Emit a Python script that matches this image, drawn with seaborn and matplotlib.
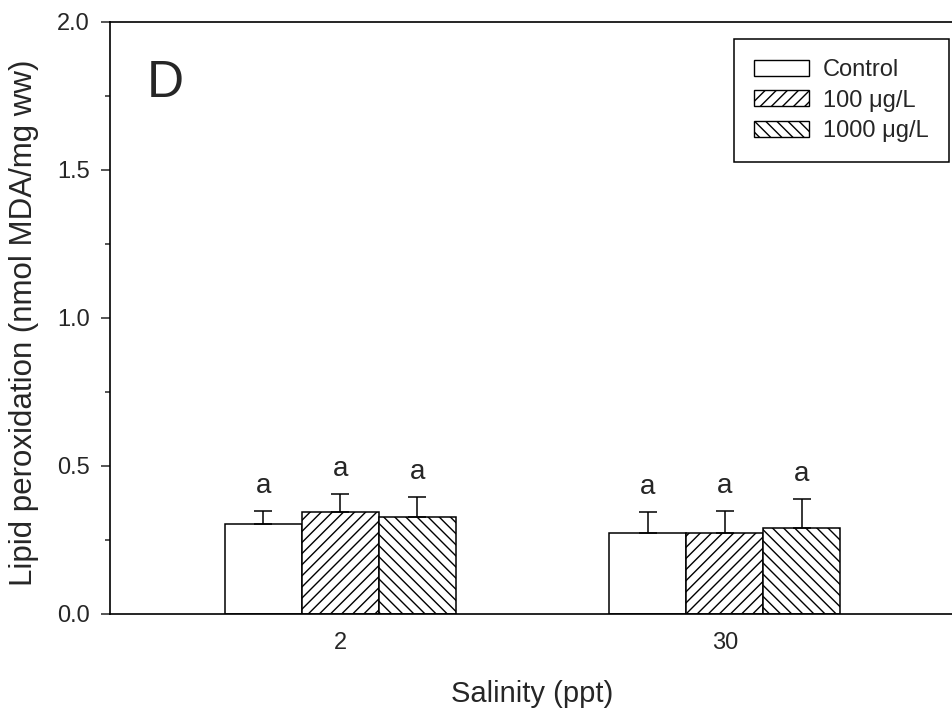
import matplotlib
matplotlib.use("Agg")
import matplotlib.pyplot as plt
import seaborn as sns
import numpy as np
import pandas as pd
from matplotlib.ticker import MultipleLocator
from matplotlib.patches import Patch

sns.set_theme(style="ticks")
plt.rcParams["font.family"] = ["Liberation Sans", "DejaVu Sans"]
plt.rcParams["hatch.linewidth"] = 1.0

# Lipid peroxidation by salinity and exposure concentration
salinity = ["2", "30"]
treatments = ["Control", "100 μg/L", "1000 μg/L"]
mean_2 = [0.305, 0.346, 0.329]
mean_30 = [0.275, 0.275, 0.292]
sem_2 = [0.043, 0.060, 0.066]
sem_30 = [0.071, 0.074, 0.097]
letters_2 = ["a", "a", "a"]
letters_30 = ["a", "a", "a"]

df = pd.DataFrame({
    "Salinity": salinity[:1] * 3 + salinity[1:] * 3,
    "Treatment": treatments * 2,
    "Value": mean_2 + mean_30,
    "SEM": sem_2 + sem_30,
    "Letter": letters_2 + letters_30,
})

fig = plt.figure(figsize=(9.52, 7.19), dpi=100)
ax = fig.add_axes([110 / 952, 105 / 719, 845 / 952, 592 / 719])

hatches = {"Control": "", "100 μg/L": "///", "1000 μg/L": "\\\\\\"}

sns.barplot(data=df, x="Salinity", y="Value", hue="Treatment",
            order=salinity, hue_order=treatments,
            palette=["white"] * 3, edgecolor="black", linewidth=1.1,
            width=0.6, errorbar=None, legend=False, ax=ax)

# Apply hatches and add upper error bars and significance letters
bars = [p for p in ax.patches]
for i, t in enumerate(treatments):
    for j, s in enumerate(salinity):
        p = bars[i * len(salinity) + j]
        p.set_hatch(hatches[t])
        row = df[(df.Salinity == s) & (df.Treatment == t)].iloc[0]
        xc = p.get_x() + p.get_width() / 2
        top = p.get_height()
        ax.errorbar(xc, top, yerr=[[0], [row.SEM]], fmt="none",
                    ecolor="black", elinewidth=1.1, capsize=6.5, capthick=1.1,
                    zorder=1)
        ax.text(xc, top + row.SEM + 0.06, row.Letter, ha="center",
                va="baseline", fontsize=20)

ax.set_ylim(0, 2.0)
ax.set_xlim(-0.598, 1.598)
ax.yaxis.set_minor_locator(MultipleLocator(0.25))
ax.set_yticks([0, 0.5, 1.0, 1.5, 2.0])
ax.set_yticklabels(["0.0", "0.5", "1.0", "1.5", "2.0"])
ax.tick_params(axis="y", which="major", length=6.5, width=1.1, labelsize=17,
               direction="out", pad=8)
ax.tick_params(axis="y", which="minor", length=3.5, width=1.1, direction="out")
ax.tick_params(axis="x", length=0, labelsize=17, pad=13)

for sp in ax.spines.values():
    sp.set_visible(True)
    sp.set_linewidth(1.2)
    sp.set_color("black")

ax.set_xlabel("Salinity (ppt)", fontsize=21)
ax.xaxis.set_label_coords(0.4994, -0.112)
ax.set_ylabel("Lipid peroxidation (nmol MDA/mg ww)", fontsize=22.5)
ax.yaxis.set_label_coords(-0.084, 0.492)

ax.text(0.0438, 0.873, "D", transform=ax.transAxes, fontsize=37,
        ha="left", va="baseline")

handles = [Patch(facecolor="white", edgecolor="black", linewidth=1.0,
                 hatch=hatches[t], label=t) for t in treatments]
leg = ax.legend(handles=handles, loc="upper right",
                bbox_to_anchor=(949 / 952, 1 - 39 / 719),
                bbox_transform=fig.transFigure, borderaxespad=0,
                fontsize=17, frameon=True, fancybox=False,
                edgecolor="black", framealpha=1, handlelength=2.33,
                handleheight=0.68, handletextpad=0.6, labelspacing=0.36,
                borderpad=0.85)
leg.get_frame().set_linewidth(1.1)

fig.savefig("out.png", dpi=100)
